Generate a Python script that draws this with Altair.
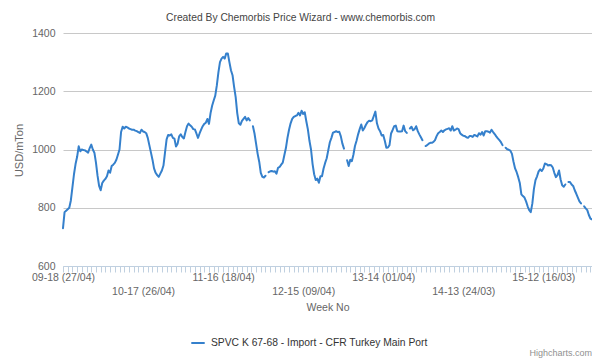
import altair as alt
import pandas as pd

chart_title = "Created By Chemorbis Price Wizard - www.chemorbis.com"
series_name = "SPVC K 67-68 - Import - CFR Turkey Main Port"
y_title = "USD/mTon"
x_title = "Week No"
week_labels = ["09-18 (27/04)", "10-17 (26/04)", "11-16 (18/04)", "12-15 (09/04)",
               "13-14 (01/04)", "14-13 (24/03)", "15-12 (16/03)"]
label_step = 51
y_ticks = [600, 800, 1000, 1200, 1400]

prices = [
    730, 785, 790, 795, 800, 825, 870, 915, 950, 975,
    1011, 994, 1000, 998, 997, 993, 989, 1005, 1017, 1000,
    989, 955, 910, 875, 860, 885, 893, 899, 908, 928,
    920, 943, 948, 954, 965, 982, 1000, 1060, 1078, 1072,
    1078, 1076, 1072, 1070, 1068, 1068, 1065, 1063, 1060, 1057,
    1068, 1062, 1060, 1056, 1040, 1015, 990, 965, 935, 920,
    912, 906, 917, 928, 945, 990, 1035, 1050, 1048, 1052,
    1040, 1037, 1010, 1020, 1045, 1052, 1043, 1038, 1060, 1080,
    1089, 1083, 1078, 1070, 1069, 1055, 1040, 1055, 1068, 1080,
    1088, 1092, 1105, 1088, 1125, 1150, 1168, 1185, 1220, 1265,
    1300, 1312, 1318, 1312, 1330, 1330, 1300, 1272, 1255, 1215,
    1180, 1125, 1090, 1085, 1098, 1105, 1112, 1100, 1108, 1100,
    None, 1080, 1055, 1020, 985, 958, 920, 906, 904, 910,
    None, 922, 925, 926, 924, 925, 917, 937, 940, 948,
    955, 980, 1005, 1040, 1068, 1090, 1105, 1112, 1115, 1117,
    1126, 1117, 1133, 1122, 1128, 1097, 1069, 1030, 1000, 950,
    915, 895, 900, 886, 908, 908, 935, 954, 970, 998,
    1025, 1040, 1058, 1060, 1063, 1060, 1061, 1045, 1020, 1003,
    None, 963, 943, 965, 960, 982, 1012, 1030, 1052, 1070,
    1086, 1065, 1074, 1085, 1094, 1099, 1097, 1100, 1115, 1130,
    1090, 1072, 1063, 1048, 1050, 1030, 1006, 1007, 1015, 1055,
    1067, 1080, 1082, 1063, 1062, 1062, 1063, 1082, 1063, 1057,
    None, 1072, 1078, 1066, 1070, 1080, 1063, 1052, 1042, 1032,
    None, 1012, 1015, 1020, 1023, 1023, 1026, 1032, 1046, 1056,
    1060, 1065, 1060, 1066, 1069, 1071, 1073, 1065, 1080, 1065,
    1068, 1072, 1070, 1056, 1051, 1047, 1046, 1042, 1040, 1046,
    1046, 1043, 1050, 1048, 1045, 1056, 1051, 1060, 1048, 1063,
    1063, 1061, 1058, 1068, 1060, 1053, 1045, 1038, 1032, 1025,
    1015, None, 1006, 1001, 999, 996, 985, 958, 935, 922,
    905, 885, 846, 840, 835, 822, 805, 792, 785, 815,
    865, 895, 908, 925, 932, 926, 935, 952, 950, 945,
    947, 946, 938, 920, 905, 912, 928, 897, 877, 872,
    880, None, 888, 888, 880, 875, 860, 848, 835, 822,
    815, None, 805, 798, 792, 775, 763, 760,
]

n = len(prices)
df = pd.DataFrame({"week": list(range(n)), "price": prices, "series": [series_name] * n})

font = "Liberation Sans"
line_color = "#3580cc"

labels_js = "[" + ",".join("'" + s + "'" for s in week_labels) + "]"
k = f"floor(datum.value/{label_step})"
label_expr = (
    f"datum.value % {label_step} != 0 ? '' : "
    f"({k} % 2 == 0 ? {labels_js}[{k}] : ['', {labels_js}[{k}]])"
)

x_axis = alt.Axis(
    title=x_title,
    values=list(range(0, n, 3)),
    labelExpr=label_expr,
    labelOverlap=False,
    labelFlush=False,
    labelBound=False,
    labelAngle=0,
    labelPadding=0,
    labelLineHeight=14,
    labelFont=font,
    labelFontSize=10.5,
    labelColor="#666666",
    grid=False,
    domainColor="#C0D0E0",
    domainWidth=1,
    tickColor="#C0D0E0",
    tickSize=6,
    titleFont=font,
    titleFontSize=10.5,
    titleFontWeight="normal",
    titleColor="#666666",
    titleBaseline="middle",
    titleY=41,
)

y_axis = alt.Axis(
    title=y_title,
    values=y_ticks,
    format="d",
    ticks=False,
    domain=False,
    labelPadding=8,
    labelFont=font,
    labelFontSize=10.5,
    labelColor="#666666",
    gridColor="#C8C8C8",
    gridWidth=1,
    titleFont=font,
    titleFontSize=11,
    titleFontWeight="normal",
    titleColor="#666666",
    titleAngle=270,
    titleAlign="center",
    titleBaseline="middle",
    titleX=-44,
    titleY=117,
)

line = alt.Chart(df).mark_line(
    strokeWidth=2, strokeJoin="round", strokeCap="round",
    invalid="break-paths-show-domains",
).encode(
    x=alt.X("week:Q", scale=alt.Scale(domain=[0, n - 1], nice=False, zero=False), axis=x_axis),
    y=alt.Y("price:Q", scale=alt.Scale(domain=[600, 1400], nice=False, zero=False), axis=y_axis),
    color=alt.Color(
        "series:N",
        scale=alt.Scale(range=[line_color]),
        legend=alt.Legend(
            title=None,
            orient="none",
            legendX=127,
            legendY=302,
            symbolType="stroke",
            symbolStrokeWidth=2,
            symbolSize=180,
            labelFont=font,
            labelFontSize=10.3,
            labelColor="#333333",
            labelOffset=5,
            labelLimit=0,
        ),
    ),
)

credit = alt.Chart(pd.DataFrame({"t": ["Highcharts.com"]})).mark_text(
    align="right", baseline="middle", font=font, fontSize=9, color="#909090"
).encode(text="t:N", x=alt.value(529), y=alt.value(320))

chart = alt.layer(line, credit).properties(
    width=529,
    height=233,
    title=alt.Title(chart_title, anchor="middle", frame="group", dx=-27, offset=5,
                    font=font, fontSize=10.3, fontWeight="normal", color="#444444"),
    autosize=alt.AutoSizeParams(type="none"),
    padding={"left": 55, "top": 25, "right": 0, "bottom": 93},
).configure(background="white", view=alt.ViewConfig(stroke=None))

chart.save("out.html", embed_options={"renderer": "svg", "actions": False})
